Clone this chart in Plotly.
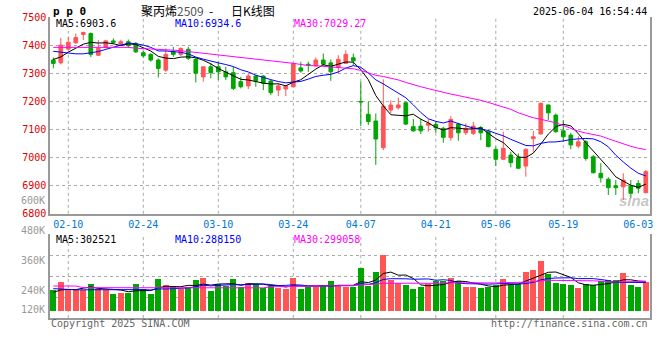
import plotly.graph_objects as go

W, H = 660, 360

dates = [
    "02-06", "02-07", "02-10", "02-11", "02-12", "02-13", "02-14", "02-17", "02-18", "02-19",
    "02-20", "02-21", "02-24", "02-25", "02-26", "02-27", "02-28", "03-03", "03-04", "03-05",
    "03-06", "03-07", "03-10", "03-11", "03-12", "03-13", "03-14", "03-17", "03-18", "03-19",
    "03-20", "03-21", "03-24", "03-25", "03-26", "03-27", "03-28", "03-31", "04-01", "04-02",
    "04-03", "04-07", "04-08", "04-09", "04-10", "04-11", "04-14", "04-15", "04-16", "04-17",
    "04-18", "04-21", "04-22", "04-23", "04-24", "04-25", "04-28", "04-29", "04-30", "05-06",
    "05-07", "05-08", "05-09", "05-12", "05-13", "05-14", "05-15", "05-16", "05-19", "05-20",
    "05-21", "05-22", "05-23", "05-26", "05-27", "05-28", "05-29", "05-30", "06-03", "06-04",
]

opens = [7347, 7337, 7386, 7408, 7438, 7441, 7364, 7392, 7415, 7404,
         7412, 7406, 7373, 7367, 7347, 7311, 7376, 7367, 7385, 7349,
         7287, 7323, 7323, 7305, 7302, 7270, 7255, 7290, 7290, 7272,
         7240, 7244, 7252, 7319, 7332, 7326, 7347, 7337, 7321, 7335,
         7355, 7200, 7154, 7130, 7035, 7169, 7177, 7195, 7110, 7112,
         7115, 7118, 7104, 7071, 7119, 7088, 7086, 7107, 7092, 7029,
         6994, 7009, 7001, 6970, 7067, 7084, 7187, 7151, 7095, 7080,
         7041, 7056, 7003, 6944, 6923, 6900, 6896, 6899, 6908, 6875]
highs = [7356, 7426, 7430, 7441, 7448, 7445, 7418, 7419, 7424, 7419,
         7420, 7411, 7379, 7371, 7353, 7388, 7394, 7392, 7394, 7356,
         7325, 7335, 7341, 7323, 7323, 7287, 7299, 7293, 7293, 7276,
         7264, 7258, 7337, 7341, 7341, 7356, 7370, 7349, 7364, 7382,
         7370, 7270, 7199, 7157, 7278, 7204, 7213, 7199, 7137, 7139,
         7136, 7127, 7110, 7148, 7124, 7122, 7127, 7112, 7098, 7039,
         7092, 7021, 7015, 7033, 7095, 7196, 7189, 7157, 7133, 7088,
         7076, 7062, 7009, 6980, 6930, 6920, 6944, 6920, 6920, 6956]
lows = [7317, 7331, 7382, 7405, 7418, 7358, 7361, 7388, 7403, 7398,
        7390, 7372, 7355, 7341, 7285, 7305, 7358, 7361, 7347, 7267,
        7270, 7282, 7276, 7276, 7240, 7246, 7244, 7252, 7240, 7222,
        7219, 7219, 7250, 7302, 7305, 7323, 7326, 7273, 7299, 7335,
        7329, 7112, 7116, 6974, 7027, 7157, 7171, 7116, 7092, 7084,
        7092, 7088, 7053, 7060, 7060, 7080, 7080, 7062, 7036, 6970,
        6991, 6965, 6960, 6932, 7021, 7082, 7133, 7088, 7056, 7029,
        7033, 6989, 6944, 6911, 6867, 6867, 6849, 6855, 6873, 6873]
closes = [7335, 7400, 7410, 7427, 7445, 7367, 7388, 7415, 7410, 7412,
          7398, 7376, 7362, 7347, 7317, 7367, 7367, 7388, 7353, 7300,
          7323, 7302, 7305, 7287, 7246, 7252, 7290, 7272, 7264, 7231,
          7255, 7255, 7335, 7308, 7329, 7347, 7332, 7305, 7349, 7367,
          7344, 7198, 7128, 7066, 7183, 7187, 7187, 7119, 7095, 7095,
          7122, 7106, 7072, 7136, 7088, 7104, 7112, 7088, 7039, 6994,
          7033, 6982, 6962, 7029, 7074, 7193, 7159, 7092, 7074, 7045,
          7056, 6997, 6946, 6928, 6893, 6893, 6920, 6873, 6891, 6950]
volumes = [214000, 299000, 224000, 214000, 214000, 275000, 224000, 214000, 173000, 184000,
           187000, 275000, 224000, 173000, 326000, 265000, 255000, 221000, 242000, 316000,
           337000, 204000, 275000, 255000, 326000, 248000, 286000, 275000, 232000, 255000,
           238000, 224000, 337000, 224000, 242000, 242000, 255000, 306000, 265000, 242000,
           242000, 442000, 255000, 401000, 571000, 316000, 283000, 265000, 224000, 242000,
           272000, 306000, 306000, 337000, 306000, 245000, 245000, 235000, 248000, 265000,
           326000, 265000, 272000, 398000, 418000, 510000, 377000, 286000, 275000, 265000,
           235000, 275000, 265000, 306000, 316000, 316000, 388000, 265000, 245000, 296000]

# moving-average values before a full window is available
ma5_head = [7349, 7358, 7375, 7390]
ma10_head = [7378, 7375, 7371, 7369, 7369, 7372, 7377, 7385, 7393]
ma30_head = [7392, 7392, 7392, 7392, 7392, 7392, 7392, 7392, 7392, 7392,
             7392, 7389, 7388, 7387, 7386, 7384, 7382, 7380, 7377, 7374,
             7371, 7368, 7365, 7362, 7359, 7356, 7353, 7351, 7349]
vma5_head = [190000, 215000, 220000, 218000]
vma10_head = [228000, 222000, 218000, 216000, 216000, 216000, 216000, 216000, 216000]
vma30_head = [255000, 255000, 255000, 255000] + [238000] * 13 + [236000] * 12

tick_labels = ["02-10", "02-24", "03-10", "03-24", "04-07", "04-21", "05-06", "05-19", "06-03"]
grid_dates = tick_labels[:-1]
price_ticks = [6800, 6900, 7000, 7100, 7200, 7300, 7400, 7500]
vol_labels = ["600K", "480K", "360K", "240K", "120K"]

ma_text = ["MA5:6903.6", "MA10:6934.6", "MA30:7029.27"]
vma_text = ["MA5:302521", "MA10:288150", "MA30:299058"]


def moving_avg(vals, n, head):
    out = list(head)
    for i in range(len(head), len(vals)):
        out.append(sum(vals[i - n + 1:i + 1]) / n)
    return out


ma5 = moving_avg(closes, 5, ma5_head)
ma10 = moving_avg(closes, 10, ma10_head)
ma30 = moving_avg(closes, 30, ma30_head)
vma5 = moving_avg(volumes, 5, vma5_head)
vma10 = moving_avg(volumes, 10, vma10_head)
vma30 = moving_avg(volumes, 30, vma30_head)

RED = "#ff5555"
GREEN = "#00a600"
GRID = "#aaaaaa"
MONO = "DejaVu Sans Mono"


def px(x):
    return x / W


def py(y):
    return 1 - y / H


fig = go.Figure()

fig.add_trace(go.Candlestick(
    x=dates, open=opens, high=highs, low=lows, close=closes,
    increasing=dict(line=dict(color=RED, width=1), fillcolor=RED),
    decreasing=dict(line=dict(color=GREEN, width=1), fillcolor=GREEN),
    whiskerwidth=0, xaxis="x", yaxis="y", showlegend=False, hoverinfo="skip",
))
for vals, col in ((ma5, "#000000"), (ma10, "#0000ff"), (ma30, "#ff00ff")):
    fig.add_trace(go.Scatter(x=dates, y=vals, mode="lines", line=dict(color=col, width=1),
                             xaxis="x", yaxis="y", showlegend=False, hoverinfo="skip"))

bar_colors = [RED if c >= o else GREEN for o, c in zip(opens, closes)]
fig.add_trace(go.Bar(x=dates, y=volumes, marker=dict(color=bar_colors, line=dict(width=0)),
                     width=0.78, xaxis="x2", yaxis="y2", showlegend=False, hoverinfo="skip"))
for vals, col in ((vma5, "#000000"), (vma10, "#0000ff"), (vma30, "#ff00ff")):
    fig.add_trace(go.Scatter(x=dates, y=vals, mode="lines", line=dict(color=col, width=1),
                             xaxis="x2", yaxis="y2", showlegend=False, hoverinfo="skip"))

xr = [-0.44, len(dates) - 0.44]
vol_per_px = 10200
vr = [-7 * vol_per_px, 77 * vol_per_px]
vgrid = [vr[0] + (vr[1] - vr[0]) * q / 4 for q in (1, 2, 3, 4)]

common_x = dict(type="category", range=xr, tickvals=tick_labels, showgrid=False,
                automargin=False, showline=True, linecolor="#999999", linewidth=1.5,
                ticks="", fixedrange=True)

fig.update_layout(
    width=W, height=H, margin=dict(l=0, r=0, t=0, b=0, autoexpand=False),
    paper_bgcolor="white", plot_bgcolor="white",
    xaxis=dict(domain=[px(50), px(650)], anchor="y", rangeslider=dict(visible=False),
               tickfont=dict(family=MONO, size=10, color="#0078d7"), **common_x),
    xaxis2=dict(domain=[px(50), px(650)], anchor="y2", showticklabels=False, **common_x),
    yaxis=dict(domain=[py(213.8), py(17)], range=[6800, 7500], tickvals=price_ticks,
               tickfont=dict(family=MONO, size=10, color="#dd0000"), showgrid=True,
               gridcolor=GRID, griddash="dot", showline=True, mirror=True,
               linecolor="#999999", linewidth=1.5, ticks="", zeroline=False, automargin=False),
    yaxis2=dict(domain=[py(318), py(234)], range=vr, tickvals=vgrid, showticklabels=False,
                showgrid=True, gridcolor=GRID, griddash="dot", showline=True, mirror=True,
                linecolor="#999999", linewidth=1.5, ticks="", zeroline=False, automargin=False),
    bargap=0,
)

shapes = []
for d in grid_dates:
    for xref, yref in (("x", "y domain"), ("x2", "y2 domain")):
        shapes.append(dict(type="line", xref=xref, yref=yref, x0=d, x1=d, y0=0, y1=1,
                           layer="below", line=dict(color=GRID, width=1, dash="dot")))
fig.update_layout(shapes=shapes)

ann = []


def text(x, y, s, color="#000000", size=10, anchor="left", family=MONO):
    ann.append(dict(x=px(x), y=py(y), xref="paper", yref="paper", text=s, showarrow=False,
                    xanchor=anchor, yanchor="middle",
                    font=dict(family=family, size=size, color=color)))


text(50.5, 11, "<b>p p 0</b>", size=11)
text(139, 10, "聚丙烯<span style='color:#555555'>2509</span>  -", size=12,
     family="Noto Sans CJK SC")
text(229, 10, "日K线图", size=12, family="Noto Sans CJK SC")
text(649, 11.5, "2025-06-04 16:54:44", anchor="right")

ma_cols = ["#000000", "#0000ff", "#ff00ff"]
for xx, s, c in zip((54, 173, 292), ma_text, ma_cols):
    text(xx, 23.5, s, color=c)
for xx, s, c in zip((54, 173, 292), vma_text, ma_cols):
    text(xx, 239, s, color=c)

for s, yy in zip(vol_labels, (200.3, 230.7, 260.7, 290, 309.3)):
    text(46.5, yy, s, color="#999999", anchor="right")

text(49, 323, "Copyright 2025 SINA.COM", color="#666666")
text(650, 323.5, "http://finance.sina.com.cn", color="#666666", anchor="right")
text(634, 200, "<b><i>sina</i></b>", color="rgba(150,150,150,0.55)", size=15, anchor="center",
     family="Liberation Sans")

fig.update_layout(annotations=ann)
fig.write_html("out.html", config={"displayModeBar": False},
               post_script="document.body.style.margin='0';document.body.style.padding='0';")
